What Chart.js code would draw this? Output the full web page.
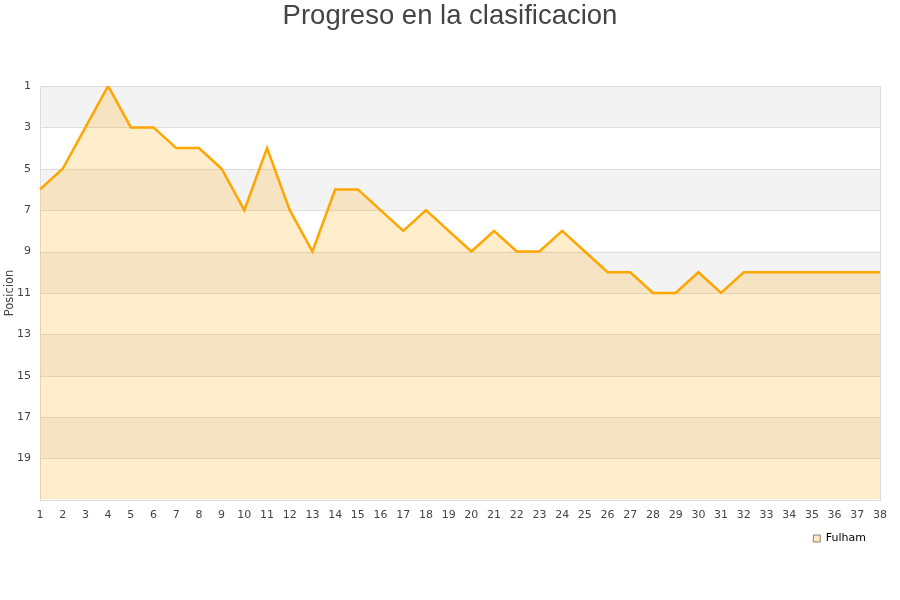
<!DOCTYPE html>
<html>
<head>
<meta charset="utf-8">
<script src="https://cdn.jsdelivr.net/npm/chart.js@4"></script>
<style>
  body { margin: 0; background: #fff; }
</style>
</head>
<body>
<canvas id="chart" width="900" height="600"></canvas>
<script>
const JORNADAS = ['1','2','3','4','5','6','7','8','9','10','11','12','13','14','15','16','17','18','19',
  '20','21','22','23','24','25','26','27','28','29','30','31','32','33','34','35','36','37','38'];
const POSICION = [6, 5, 3, 1, 3, 3, 4, 4, 5, 7, 4, 7, 9, 6, 6, 7, 8, 7, 8,
  9, 8, 9, 9, 8, 9, 10, 10, 11, 11, 10, 11, 10, 10, 10, 10, 10, 10, 10];
const EQUIPO = 'Fulham';
const TITULO = 'Progreso en la clasificacion';
const Y_MIN = 1;
const Y_MAX = 21;

// grey bands behind the plot + thin frame
const bandsPlugin = {
  id: 'bands',
  afterLayout(chart) {
    // legend sits closer to the x labels than chart.js would put it
    if (chart.legend) {
      chart.legend.top -= 4;
      chart.legend.bottom -= 4;
    }
  },
  beforeDatasetsDraw(chart) {
    const { ctx, chartArea, scales } = chart;
    ctx.save();
    ctx.fillStyle = '#f3f3f3';
    for (let v = Y_MIN; v < Y_MAX; v += 4) {
      const y1 = scales.y.getPixelForValue(v);
      const y2 = scales.y.getPixelForValue(v + 2);
      ctx.fillRect(chartArea.left, y1, chartArea.right - chartArea.left, y2 - y1);
    }
    // gridlines on top of bands
    ctx.strokeStyle = '#dddddd';
    ctx.lineWidth = 1;
    for (let v = Y_MIN; v <= Y_MAX; v += 2) {
      const y = Math.round(scales.y.getPixelForValue(v)) + 0.5;
      ctx.beginPath();
      ctx.moveTo(chartArea.left, y);
      ctx.lineTo(chartArea.right, y);
      ctx.stroke();
    }
    ctx.strokeRect(Math.round(chartArea.left) + 0.5, Math.round(chartArea.top) + 0.5,
      Math.round(chartArea.right - chartArea.left), Math.round(chartArea.bottom - chartArea.top));
    ctx.restore();
  }
};

new Chart(document.getElementById('chart'), {
  type: 'line',
  data: {
    labels: JORNADAS,
    datasets: [{
      label: EQUIPO,
      data: POSICION,
      borderColor: '#ffa500',
      backgroundColor: 'rgba(255, 165, 0, 0.2)',
      borderWidth: 2.5,
      fill: 'start',
      tension: 0,
      pointRadius: 0,
      yAxisID: 'y'
    }]
  },
  options: {
    responsive: false,
    animation: false,
    layout: { padding: { left: 0, right: 0, top: 0, bottom: 42 } },
    plugins: {
      title: {
        display: true,
        text: TITULO,
        color: '#444',
        font: { family: 'Liberation Sans', size: 27.5, weight: 'normal' },
        padding: { top: 0, bottom: 53 }
      },
      legend: {
        position: 'bottom',
        align: 'end',
        fullSize: false,
        labels: {
          color: '#222',
          font: { family: 'DejaVu Sans', size: 11 },
          boxWidth: 7,
          boxHeight: 7,
          padding: 14,
          generateLabels() {
            return [{
              text: EQUIPO,
              fillStyle: '#fde8c4',
              strokeStyle: '#888070',
              lineWidth: 1,
              datasetIndex: 0
            }];
          }
        }
      },
      tooltip: { enabled: false }
    },
    scales: {
      x: {
        grid: { display: false },
        border: { display: false },
        ticks: {
          color: '#444',
          font: { family: 'DejaVu Sans', size: 11 },
          autoSkip: false,
          maxRotation: 0,
          padding: 1
        }
      },
      y: {
        reverse: true,
        min: Y_MIN,
        max: Y_MAX,
        grid: { display: false, drawTicks: false },
        border: { display: false },
        afterFit(scale) { scale.width = 40; },
        ticks: {
          stepSize: 2,
          color: '#444',
          font: { family: 'DejaVu Sans', size: 11 },
          padding: 9,
          callback: (v) => (v === Y_MAX ? '' : v)
        },
        title: {
          display: true,
          text: 'Posicion',
          color: '#444',
          font: { family: 'DejaVu Sans', size: 11.5 },
          padding: { top: 3, bottom: 0 }
        }
      },
      // empty right axis, only keeps a 20px margin on the right of the plot
      yRight: {
        position: 'right',
        display: true,
        grid: { display: false, drawTicks: false },
        border: { display: false },
        ticks: { display: false },
        afterFit(scale) { scale.width = 20; }
      }
    }
  },
  plugins: [bandsPlugin]
});
</script>
</body>
</html>
